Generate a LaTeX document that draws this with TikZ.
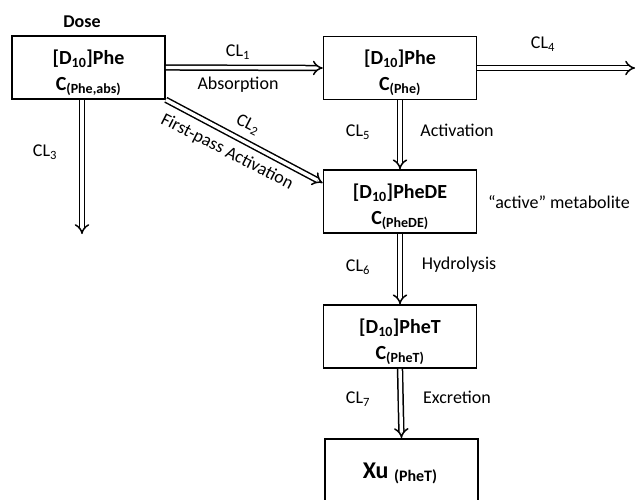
\documentclass[tikz,border=0pt]{standalone}
\usepackage{fontspec}
\setmainfont{Carlito}
\usetikzlibrary{arrows.meta}
\newcommand\boxtext[2]{\raisebox{0pt}[28pt][35pt]{\begin{tabular}[t]{@{}c@{}}#1\\#2\end{tabular}}}
\begin{document}
\begin{tikzpicture}[x=1pt,y=-1pt,
  box/.style={draw, line width=1.6pt, minimum width=153pt, minimum height=63pt,
    inner sep=0pt, font=\bfseries\fontsize{20}{26}\selectfont},
  flow/.style={double, double distance=3.4pt, line width=1.5pt, -{Implies[scale=1.3]}},
  lbl/.style={font=\fontsize{18}{20}\selectfont, inner sep=0pt}]
\useasboundingbox (0,0) rectangle (637,499);
\clip (0,0) rectangle (637,499);

\node[box] (b1) at (88.5,67.5) {\boxtext{[D\textsubscript{10}]Phe}{C\textsubscript{(Phe,abs)}}};
\node[box] (b2) at (400,68) {\boxtext{[D\textsubscript{10}]Phe}{C\textsubscript{(Phe)}}};
\node[box] (b3) at (400,201.5) {\boxtext{[D\textsubscript{10}]PheDE}{C\textsubscript{(PheDE)}}};
\node[box] (b4) at (400,336.5) {\boxtext{[D\textsubscript{10}]PheT}{C\textsubscript{(PheT)}}};
\node[box, minimum height=90pt, anchor=north] (b5) at (401.5,438) {};
\node[inner sep=0pt, anchor=base] (xu) at (400,478)
  {\bfseries\fontsize{24}{28}\selectfont Xu \raisebox{-3pt}{\fontsize{16}{18}\selectfont (PheT)}};

\node[lbl, font=\bfseries\fontsize{18}{20}\selectfont] (dose) at (82,22) {Dose};

\coordinate (e4) at (635,68);
\coordinate (e3) at (82,234);

\draw[flow] (b1.east) -- (b2.west);
\draw[flow] (b2.east) -- (e4);
\draw[flow] ([xshift=-6.5pt]b1.south) -- (e3);
\draw[flow] (b1.south east) -- ([yshift=18.5pt]b3.west);
\draw[flow] (b2.south) -- (b3.north);
\draw[flow] (b3.south) -- (b4.north);
\draw[flow] (b4.south) -- (b5.north);

\node[lbl] (cl1) at (238,52) {CL\textsubscript{1}};
\node[lbl] (abs) at (238,85) {Absorption};
\node[lbl] (cl4) at (543,44) {CL\textsubscript{4}};
\node[lbl] (cl3) at (45,152) {CL\textsubscript{3}};
\node[lbl, rotate=-27] (cl2) at (248,125) {CL\textsubscript{2}};
\node[lbl, rotate=-27] (fpa) at (227,152) {First-pass Activation};
\node[lbl] (cl5) at (358,132) {CL\textsubscript{5}};
\node[lbl] (act) at (457,130) {Activation};
\node[lbl] (met) at (559,202) {“active” metabolite};
\node[lbl] (cl6) at (358,267) {CL\textsubscript{6}};
\node[lbl] (hyd) at (459,265) {Hydrolysis};
\node[lbl] (cl7) at (358,399) {CL\textsubscript{7}};
\node[lbl] (exc) at (457,397) {Excretion};
\end{tikzpicture}
\end{document}
